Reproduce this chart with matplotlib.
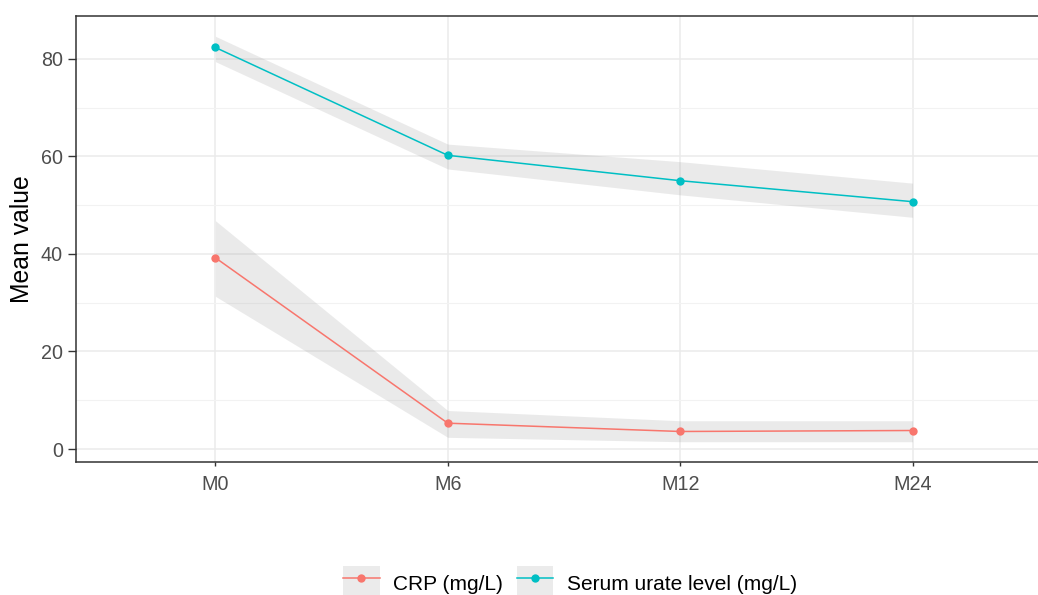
import matplotlib
matplotlib.use("Agg")
import matplotlib.pyplot as plt
from matplotlib.legend_handler import HandlerTuple
from matplotlib.lines import Line2D
from matplotlib.patches import Patch
from matplotlib.ticker import MultipleLocator

plt.rcParams['font.family'] = ['Liberation Sans', 'DejaVu Sans']

timepoints = ["M0", "M6", "M12", "M24"]

crp_mean = [39.2, 5.3, 3.6, 3.8]
crp_low = [31.3, 2.4, 1.5, 1.5]
crp_high = [46.8, 7.9, 5.8, 5.8]

urate_mean = [82.3, 60.2, 55.0, 50.7]
urate_low = [79.4, 57.4, 52.1, 47.5]
urate_high = [84.6, 62.5, 58.9, 54.5]

series = [
    ("CRP (mg/L)", crp_mean, crp_low, crp_high, "#F8766D"),
    ("Serum urate level (mg/L)", urate_mean, urate_low, urate_high, "#00BFC4"),
]

W, H = 1038, 595
fig = plt.figure(figsize=(W / 100, H / 100), dpi=100)
# panel runs slightly past the right edge of the image (cropped in the reference)
ax = fig.add_axes([76 / W, 1 - 462 / H, 976 / W, 446 / H])

x = list(range(1, len(timepoints) + 1))
handles = []
for label, mean, low, high, color in series:
    ax.fill_between(x, low, high, color="#999999", alpha=0.2, linewidth=0, zorder=2)
    ax.plot(x, mean, color=color, linewidth=1.1, marker="o", markersize=6,
            markeredgewidth=0, zorder=3)
    handles.append((Patch(facecolor="#EBEBEB", edgecolor="none"),
                    Line2D([], [], color=color, linewidth=1.1, marker="o",
                           markersize=6, markeredgewidth=0)))

# ggplot-like expansion
lo = min(crp_low + urate_low)
hi = max(crp_high + urate_high)
pad = (hi - lo) * 0.05
ax.set_ylim(lo - pad, hi + pad)
ax.set_xlim(0.4, len(timepoints) + 0.6)

ax.set_xticks(x)
ax.set_xticklabels(timepoints)
ax.yaxis.set_major_locator(MultipleLocator(20))
ax.yaxis.set_minor_locator(MultipleLocator(10))

ax.grid(True, which="major", color="#EBEBEB", linewidth=1.1, zorder=0)
ax.grid(True, which="minor", axis="y", color="#F2F2F2", linewidth=0.8, zorder=0)
ax.set_axisbelow(True)

for sp in ax.spines.values():
    sp.set_color("#333333")
    sp.set_linewidth(1.1)

ax.tick_params(axis="both", which="major", colors="#333333", labelcolor="#4D4D4D",
               labelsize=14.2, width=1.0)
ax.tick_params(axis="x", which="major", length=3, pad=6)
ax.tick_params(axis="y", which="major", length=5.5, pad=4)
ax.tick_params(axis="y", which="minor", length=0)
ax.set_ylabel("Mean value", fontsize=17.8, labelpad=5)

# legend centred on the original (uncropped) figure width
fig.legend(handles, [s[0] for s in series],
           handler_map={tuple: HandlerTuple(ndivide=1)},
           loc="center", bbox_to_anchor=(570 / W, 1 - 584 / H), ncol=2,
           frameon=False, fontsize=15, handlelength=1.75, handleheight=2.3,
           columnspacing=0.65, handletextpad=0.65, borderpad=0)

fig.savefig("out.png", dpi=100)
